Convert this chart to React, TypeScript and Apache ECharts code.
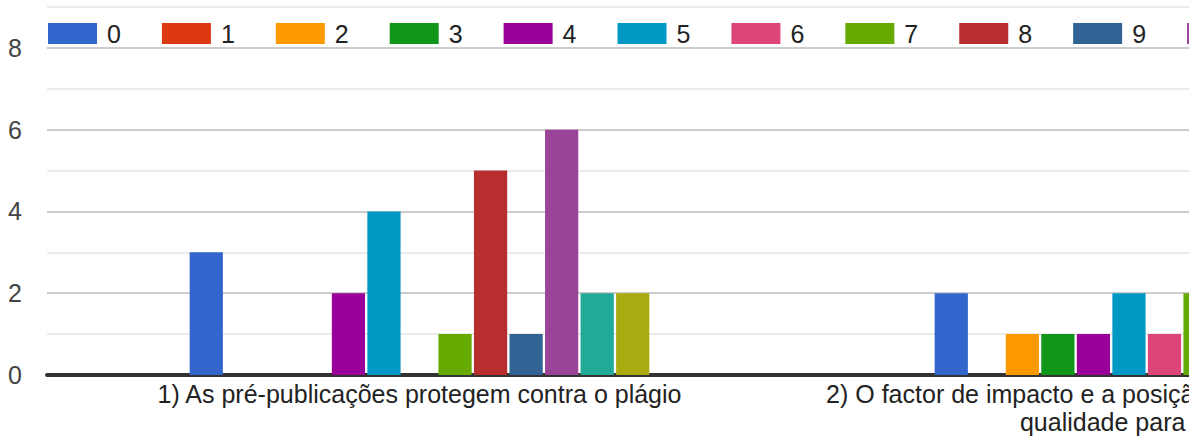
import React, { useEffect, useRef } from "react";
import * as echarts from "echarts";

const categories = [
  "1) As pré-publicações protegem contra o plágio",
  "2) O factor de impacto e a posição da revista são garantia de\nqualidade para os autores",
];
const seriesNames = ["0", "1", "2", "3", "4", "5", "6", "7", "8", "9", "10", "11", "12"];
const q1Counts = [3, 0, 0, 0, 2, 4, 0, 1, 5, 1, 6, 2, 2];
const q2Counts = [2, 0, 1, 1, 1, 2, 1, 2, 4, 2, 3, 1, 2];
const colors = [
  "#3366cc", "#dc3912", "#ff9900", "#109618", "#990099", "#0099c6", "#dd4477",
  "#66aa00", "#b82e2e", "#316395", "#994499", "#22aa99", "#aaaa11",
];
const yTicks = [0, 1, 2, 3, 4, 5, 6, 7, 8, 9];

export default function App() {
  const ref = useRef<HTMLDivElement>(null);
  useEffect(() => {
    if (!ref.current) return;
    const chart = echarts.init(ref.current, undefined, { renderer: "svg" });
    const font = "Arial, 'Liberation Sans', sans-serif";
    chart.setOption({
      animation: false,
      color: colors,
      textStyle: { fontFamily: font },
      legend: {
        left: 43,
        top: 16,
        width: 3000,
        icon: "rect",
        itemWidth: 49,
        itemHeight: 21,
        itemGap: 41,
        textStyle: { fontSize: 25, color: "#222", fontFamily: font, padding: [0, 0, 0, 5] },
        data: seriesNames,
      },
      grid: { left: 47, top: 7, width: 1490, bottom: 65, containLabel: false, outerBoundsMode: "none" },
      xAxis: {
        type: "category",
        data: categories,
        axisTick: { show: false },
        axisLine: { lineStyle: { color: "#333", width: 4 } },
        axisLabel: {
          interval: 0,
          fontSize: 25,
          lineHeight: 28,
          color: "#222",
          margin: 5,
          fontFamily: font,
        },
      },
      yAxis: {
        type: "value",
        min: yTicks[0],
        max: yTicks[yTicks.length - 1],
        interval: 1,
        axisLine: { show: false },
        axisTick: { show: false },
        axisLabel: {
          fontSize: 25,
          color: "#444",
          margin: 25,
          fontFamily: font,
          formatter: (v: number) => (v % 2 === 0 ? String(v) : ""),
        },
        splitLine: { lineStyle: { color: ["#cccccc", "#ebebeb"], width: 2 } },
      },
      series: seriesNames.map((name, i) => ({
        name,
        type: "bar",
        data: [q1Counts[i], q2Counts[i]],
        barGap: "7%",
        barCategoryGap: "38.3%",
      })),
    });
    return () => chart.dispose();
  }, []);
  return (
    <div style={{ position: "absolute", left: 0, top: 0, width: 1200, height: 440, background: "#fff" }}>
      <div style={{ width: 1189, height: 440, overflow: "hidden" }}>
        <div ref={ref} style={{ width: 1560, height: 440 }} />
      </div>
    </div>
  );
}
